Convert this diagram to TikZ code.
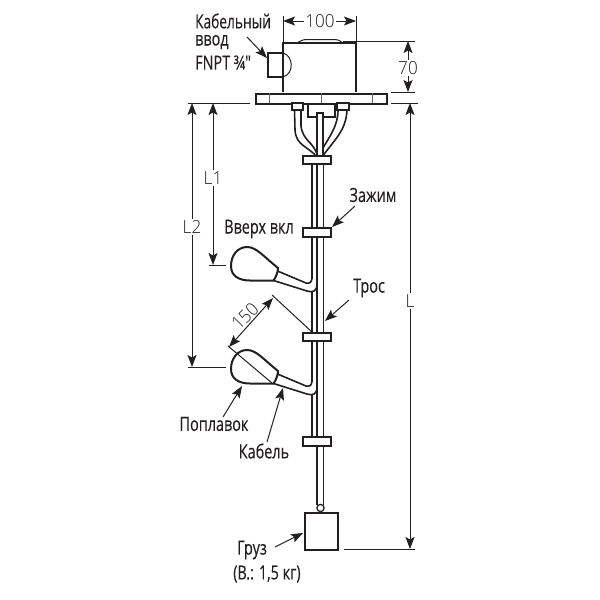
\documentclass[tikz,border=0pt]{standalone}
\usepackage{fontspec}
\setmainfont[FakeStretch=0.74,FakeBold=0.25]{Open Sans}
\newfontfamily\dimfont[FakeStretch=0.95]{Open Sans Light}
\usetikzlibrary{arrows.meta}
\definecolor{ink}{HTML}{231F20}
\tikzset{
 x=1pt,y=-1pt,
 part/.style={draw=ink,line width=2pt,line join=miter},
 thinpart/.style={draw=ink,line width=1.6pt},
 faint/.style={draw=ink!70,line width=.6pt},
 dimline/.style={draw=ink,line width=1pt},
 dimarrow/.style={dimline,-{Stealth[length=12pt,width=9pt,inset=2.5pt]}},
 dimboth/.style={dimline,{Stealth[length=12pt,width=9pt,inset=2.5pt]}-{Stealth[length=12pt,width=9pt,inset=2.5pt]}},
 lbl/.style={text=ink,font=\fontsize{19.5}{22}\selectfont,inner sep=0pt},
 dimlbl/.style={text=ink,font=\fontsize{18}{20}\selectfont\dimfont,inner sep=1pt},
 clampbox/.style={part,fill=white,minimum width=28pt,minimum height=8.5pt,inner sep=0pt},
}
\begin{document}
\begin{tikzpicture}
\useasboundingbox (0,0) rectangle (600,600);
% housing
\draw[part] (283,92) -- (283,43) -- (356,43) -- (356,92);
\draw[thinpart,line width=1pt] (297,43) .. controls (303,39.5) .. (310,39.5) -- (331,39.5) .. controls (338,39.5) .. (343,43);
% cable entry
\draw[part] (283,53) -- (268,53) -- (268,77) -- (283,77);
\draw[thinpart,line width=1pt] (283,53) .. controls (294,56) and (294,74) .. (283,77);
\node[part,fill=white,minimum width=131pt,minimum height=10pt,inner sep=0pt,anchor=north west] (flange) at (255,93) {};
\draw[faint,line width=.8pt] (269,93) -- (269,103) (372,93) -- (372,103);
\draw[faint] (321,93) -- (321,103);
% cables to the top clamp
\draw[thinpart] (294.5,110) -- (295,130) .. controls (296,146) and (308,146) .. (317,157);
\draw[thinpart] (301,110) -- (301,126) .. controls (303,141) and (312,140) .. (318,156);
\draw[thinpart] (347,110) .. controls (346,130) and (336,138) .. (322,157);
\draw[thinpart] (338,110) .. controls (338,126) and (330,136) .. (318,156);
% glands and centre block
\draw[part,fill=white] (292,103) rectangle (303,110);
\draw[part,fill=white] (337,103) rectangle (349,110);
\draw[part] (308,103) -- (308,117) -- (335,117) -- (335,103);
\draw[thinpart,fill=white] (317,157) -- (317,113) -- (323,113) -- (323,157);
% rods
\draw[thinpart] (312,160) -- (312,279) (312,292) -- (312,382) (312,395) -- (312,440);
\draw[thinpart] (317,160) -- (317,440);
\draw[thinpart] (317,440) -- (317,505) (323.5,160) -- (323.5,505);
% floats
\foreach \d in {0,103}{
 \draw[part,fill=white] (231,{266+\d}) .. controls (231,{255+\d}) and (238,{247+\d}) .. (247,{247+\d})
   .. controls (256,{247+\d}) and (262,{255+\d}) .. (278,{268+\d})
   .. controls (278,{272+\d}) and (276,{277+\d}) .. (273.5,{280.5+\d})
   -- (250,{280.5+\d}) .. controls (239,{280.5+\d}) and (231,{276+\d}) .. (231,{266+\d}) -- cycle;
 \draw[thinpart] (277.5,{271+\d}) -- (306,{283+\d}) .. controls (310,{284+\d}) and (312,{282+\d}) .. (312,{277+\d});
 \draw[thinpart] (273.5,{280.5+\d}) -- (307,{291+\d}) .. controls (313,{293+\d}) and (317,{291+\d}) .. (317,{284+\d});
}
% clamps
\node[clampbox] (c1) at (316.5,160) {};
\node[clampbox] (c2) at (317,232.5) {};
\node[clampbox] (c3) at (317,337) {};
\node[clampbox] (c4) at (317,441.5) {};
% weight
\draw[thinpart,line width=1.3pt,fill=white] (320.5,508) circle (3.6);
\node[part,fill=white,minimum width=33pt,minimum height=37pt,inner sep=0pt,anchor=north west] (weight) at (304,512) {};
% 100
\coordinate (t100l) at (283,21); \coordinate (t100r) at (356,21);
\node[dimlbl] (d100) at (320,21) {100};
\draw[dimline] (283,16) -- (283,42) (356,16) -- (356,42);
\draw[dimarrow] (d100) -- (t100l);
\draw[dimarrow] (d100) -- (t100r);
% 70
\node[dimlbl,fill=white] (d70) at (408,68) {70};
\draw[dimline] (343,41) -- (415,41) (391,92) -- (415,92) (391,103) -- (418,103);
\coordinate (t70a) at (408,41); \coordinate (t70b) at (408,92);
\draw[dimarrow] (d70) -- (t70a);
\draw[dimarrow] (d70) -- (t70b);
% L
\node[dimlbl,fill=white] (dL) at (410,301) {L};
\coordinate (tLa) at (410,103); \coordinate (tLb) at (410,549);
\draw[dimarrow] (dL) -- (tLa);
\draw[dimarrow] (dL) -- (tLb);
\draw[dimline] (344,549) -- (415,549);
% L1 L2
\draw[dimline] (188,103) -- (250,103) (209,265) -- (226,265) (188,367) -- (226,367);
\node[dimlbl] (dL1) at (213,178) {L1};
\node[dimlbl] (dL2) at (192,227) {L2};
\coordinate (tL1a) at (213,103); \coordinate (tL1b) at (213,265);
\coordinate (tL2a) at (192,103); \coordinate (tL2b) at (192,367);
\draw[dimarrow] (dL1) -- (tL1a);
\draw[dimarrow] (dL1) -- (tL1b);
\draw[dimarrow] (dL2) -- (tL2a);
\draw[dimarrow] (dL2) -- (tL2b);
% 150
\coordinate (a150) at (229,347); \coordinate (b150) at (273,298);
\draw[dimboth] (a150) -- (b150);
\draw[dimline] (272,295) -- (312,332);
\draw[dimline] (228,346) -- (272,383);
\node[dimlbl,rotate=45,inner sep=0pt] (d150) at (245,316) {150};
% labels
\node[lbl,anchor=west,xscale=.95] (l1) at (195,21) {Кабельный};
\node[lbl,anchor=west] (l2) at (195,42) {ввод};
\node[lbl,anchor=west] (l3) at (195,62.5) {FNPT ¾″};
\node[lbl] (top) at (259,229) {Вверх вкл};
\node[lbl] (zaj) at (373,195) {Зажим};
\node[lbl] (tros) at (369,288) {Трос};
\node[lbl] (pop) at (214,424) {Поплавок};
\node[lbl] (kab) at (264,451) {Кабель};
\node[lbl,anchor=west] (gruz) at (237,550) {Груз};
\node[lbl,anchor=west] (gruz2) at (233,574) {(В.: 1,5 кг)};
% leaders
\coordinate (s1) at (247,37); \coordinate (e1) at (267,58);
\draw[dimarrow] (s1) -- (e1);
\coordinate (s2) at (355,206); \coordinate (e2) at (332,227);
\draw[dimarrow] (s2) -- (e2);
\coordinate (s3) at (349,300); \coordinate (e3) at (325,321);
\draw[dimarrow] (s3) -- (e3);
\coordinate (s4) at (223,417); \coordinate (e4) at (242,386);
\draw[dimarrow] (s4) -- (e4);
\coordinate (s5) at (267,442); \coordinate (e5) at (283,388);
\draw[dimarrow] (s5) -- (e5);
\coordinate (s6) at (275,547); \coordinate (e6) at (303,533);
\draw[dimarrow] (s6) -- (e6);
\end{tikzpicture}
\end{document}
